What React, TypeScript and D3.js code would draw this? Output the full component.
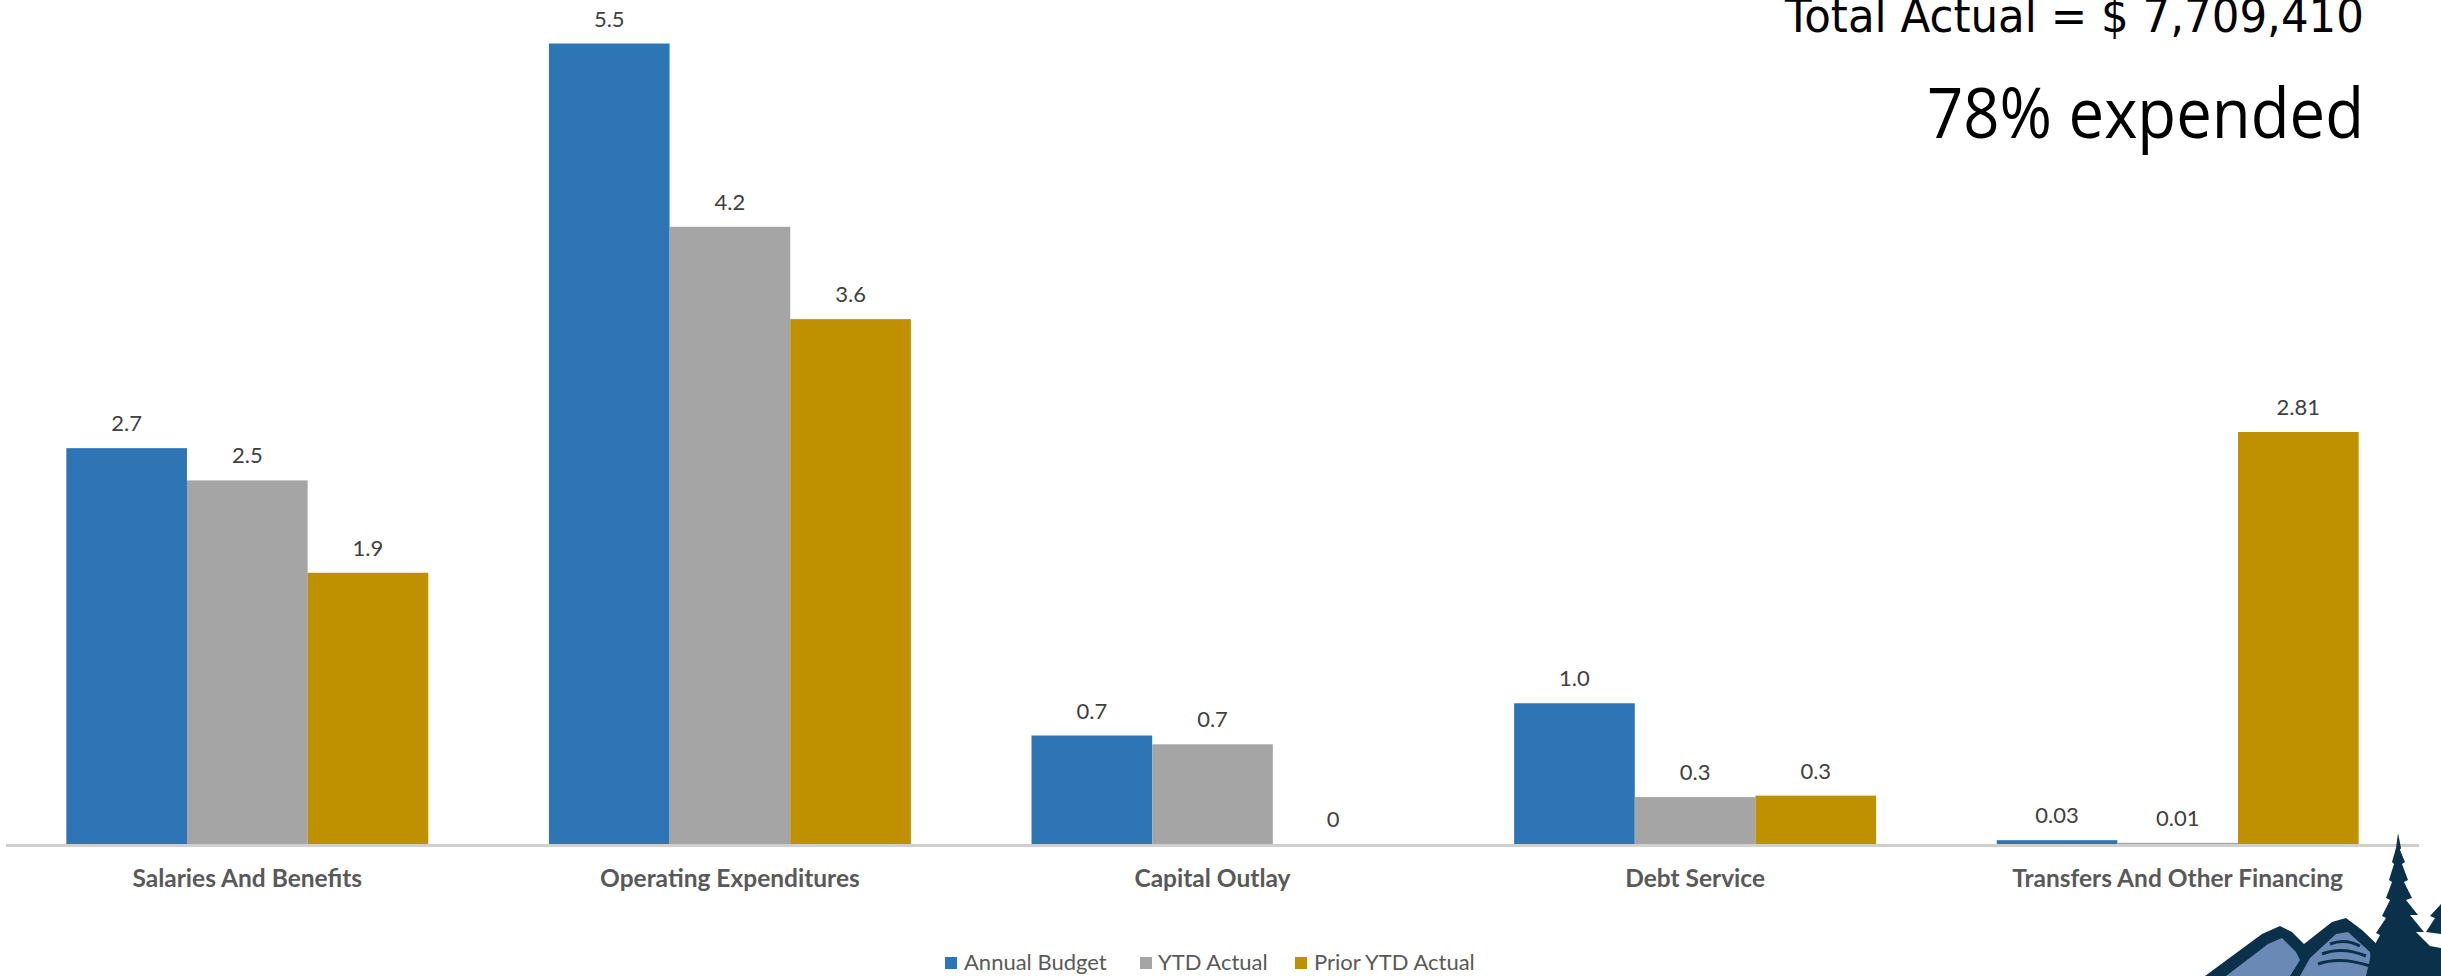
import React, { useEffect } from "react";
import * as d3 from "d3";

const categories = [
  "Salaries And Benefits",
  "Operating Expenditures",
  "Capital Outlay",
  "Debt Service",
  "Transfers And Other Financing",
];
const seriesNames = ["Annual Budget", "YTD Actual", "Prior YTD Actual"];
const annualBudget = [2.7, 5.46, 0.74, 0.96, 0.026];
const ytdActual = [2.48, 4.21, 0.68, 0.32, 0.008];
const priorYtdActual = [1.85, 3.58, 0, 0.33, 2.81];
const labelDecimals = [1, 1, 1, 1, 2];
const seriesColors = ["#2E75B6", "#A5A5A5", "#BF9000"];
const totalActualText = "Total Actual = $ 7,709,410";
const expendedText = "78% expended";

const W = 2441;
const H = 976;

export default function App() {
  useEffect(() => {
    document.body.style.margin = "0";
    document.body.style.overflow = "hidden";
  }, []);

  const seriesValues = [annualBudget, ytdActual, priorYtdActual];
  const x0 = d3
    .scaleBand<string>()
    .domain(categories)
    .range([6, 2419])
    .paddingInner(0.25)
    .paddingOuter(0.125);
  const x1 = d3
    .scaleBand<string>()
    .domain(seriesNames)
    .range([0, x0.bandwidth()])
    .padding(0);
  const y = d3.scaleLinear().domain([0, 5.75]).range([844, 1]);

  const fmt = (v: number, d: number) => (v === 0 ? "0" : v.toFixed(d));

  const labelFont = "Lato, 'Open Sans', sans-serif";

  // legend layout
  const legendItems = [
    { sq: 945, tx: 964 },
    { sq: 1140, tx: 1158 },
    { sq: 1295, tx: 1314 },
  ];

  return (
    <svg
      width={W}
      height={H}
      viewBox={`0 0 ${W} ${H}`}
      style={{ position: "absolute", left: 0, top: 0, display: "block", background: "#fff" }}
    >
      <rect x={0} y={0} width={W} height={H} fill="#ffffff" />

      {/* bars */}
      {categories.map((c, ci) => (
        <g key={c} transform={`translate(${x0(c)},0)`}>
          {seriesNames.map((s, si) => {
            const v = seriesValues[si][ci];
            const top = y(v);
            return (
              <g key={s}>
                {v > 0 && (
                  <rect
                    x={x1(s)}
                    y={top}
                    width={x1.bandwidth()}
                    height={y(0) - top}
                    fill={seriesColors[si]}
                  />
                )}
                <text
                  x={(x1(s) as number) + x1.bandwidth() / 2}
                  y={top - 17}
                  textAnchor="middle"
                  fontFamily={labelFont}
                  fontSize={22}
                  fill="#404040"
                >
                  {fmt(v, labelDecimals[ci])}
                </text>
              </g>
            );
          })}
          <text
            x={x0.bandwidth() / 2}
            y={887}
            textAnchor="middle"
            fontFamily={labelFont}
            fontWeight="bold"
            fontSize={24.5}
            fill="#595959"
          >
            {c}
          </text>
        </g>
      ))}

      {/* axis line */}
      <line x1={6} x2={2419} y1={845.5} y2={845.5} stroke="#cfcfcf" strokeWidth={3} />

      {/* legend */}
      {seriesNames.map((s, si) => (
        <g key={s}>
          <rect x={legendItems[si].sq} y={957} width={12} height={12} fill={seriesColors[si]} />
          <text
            x={legendItems[si].tx}
            y={970}
            fontFamily={labelFont}
            fontSize={22}
            fill="#595959"
          >
            {s}
          </text>
        </g>
      ))}

      {/* top-right annotations */}
      <text
        x={2364}
        y={32}
        textAnchor="end"
        fontFamily="'DejaVu Sans', sans-serif"
        fontSize={46}
        fill="#000"
        textLength={579}
        lengthAdjust="spacingAndGlyphs"
      >
        {totalActualText}
      </text>
      <text
        x={2364}
        y={138}
        textAnchor="end"
        fontFamily="'Open Sans', sans-serif"
        fontSize={70}
        fill="#000"
        textLength={437}
        lengthAdjust="spacingAndGlyphs"
      >
        {expendedText}
      </text>

      {/* logo decoration */}
      <g>
        <path
          d="M2205,976 L2262,934 L2280,926 L2292,932 L2304,944 L2332,922 L2346,918 L2362,930 L2385,952 L2385,976 Z"
          fill="#0B3049"
        />
        <path
          d="M2226,976 L2268,944 L2282,938 L2296,952 L2300,960 L2290,976 Z"
          fill="#6A8AB5"
        />
        <path
          d="M2300,976 L2310,958 L2336,934 L2348,932 L2370,952 L2372,976 Z"
          fill="#6A8AB5"
        />
        <path d="M2330,944 Q2345,938 2360,946" stroke="#0B3049" strokeWidth={3} fill="none" />
        <path d="M2322,954 Q2342,946 2366,956" stroke="#0B3049" strokeWidth={3} fill="none" />
        <path d="M2318,964 Q2340,956 2370,966" stroke="#0B3049" strokeWidth={3} fill="none" />
        <path
          d="M2398,833 L2401,848 L2400,850 L2405,862 L2402,864 L2408,880 L2404,882 L2412,898 L2406,900 L2418,915 L2410,915 L2424,932 L2416,932 L2430,946 L2441,948 L2441,976 L2366,976 L2372,950 L2380,935 L2376,933 L2386,918 L2382,916 L2390,900 L2386,898 L2392,882 L2389,880 L2394,864 L2392,862 L2396,848 Z"
          fill="#0B3049"
        />
        <path d="M2441,904 L2430,916 L2435,918 L2426,932 L2441,934 Z" fill="#0B3049" />
      </g>
    </svg>
  );
}
